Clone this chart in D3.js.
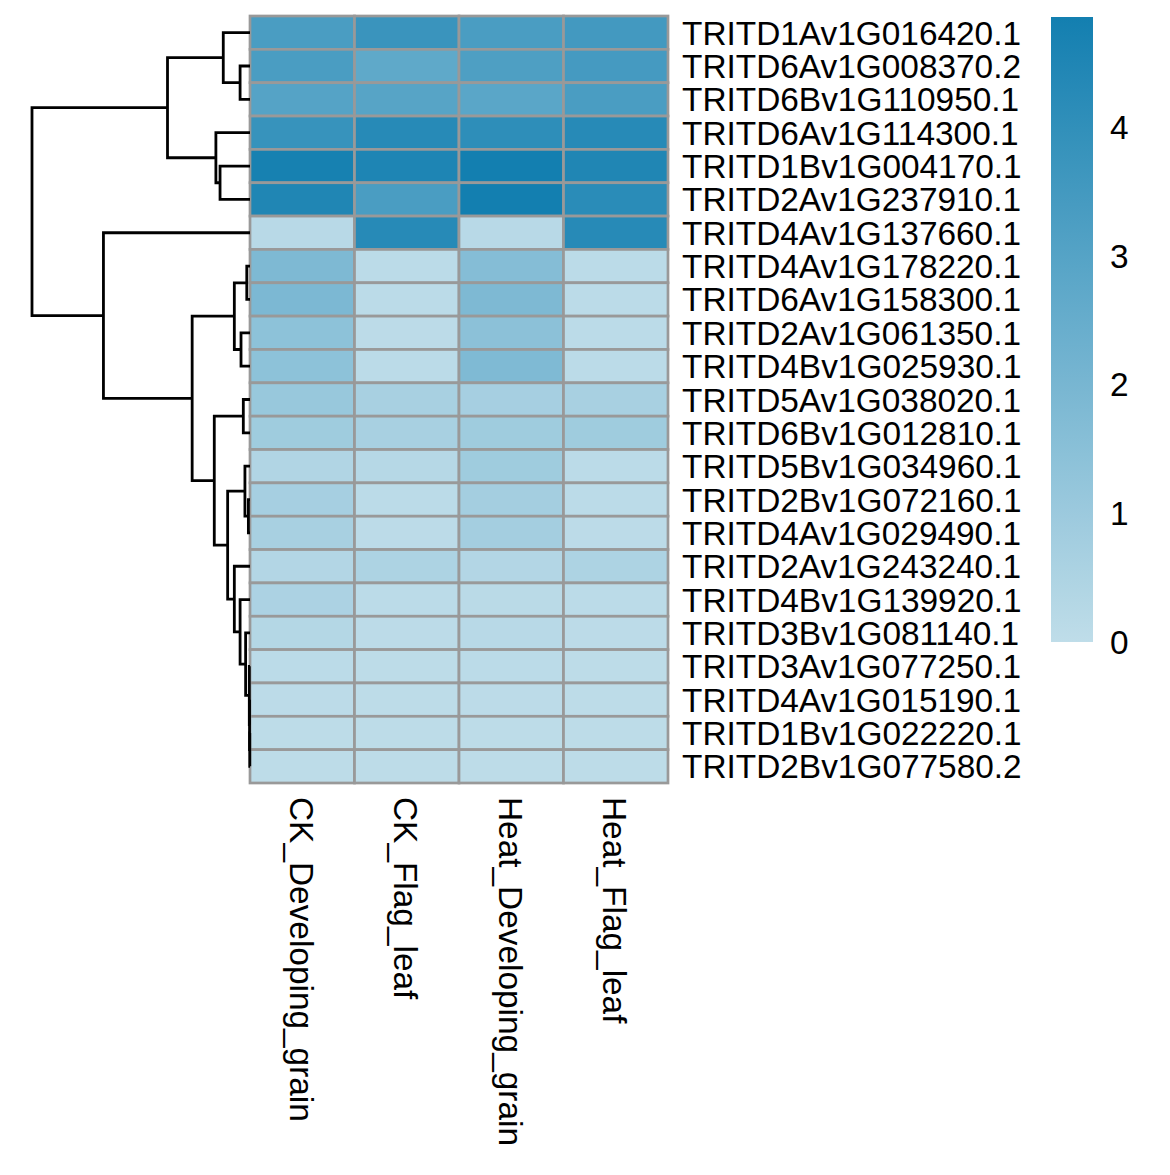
<!DOCTYPE html>
<html>
<head>
<meta charset="utf-8">
<script src="https://cdn.jsdelivr.net/npm/d3@7"></script>
<style>
  body { margin: 0; background: #fff; }
  text { font-family: "Liberation Sans", Arial, sans-serif; fill: #000; }
</style>
</head>
<body>
<div id="app"></div>
<script>
const genes = [
  'TRITD1Av1G016420.1', 'TRITD6Av1G008370.2', 'TRITD6Bv1G110950.1', 'TRITD6Av1G114300.1',
  'TRITD1Bv1G004170.1', 'TRITD2Av1G237910.1', 'TRITD4Av1G137660.1', 'TRITD4Av1G178220.1',
  'TRITD6Av1G158300.1', 'TRITD2Av1G061350.1', 'TRITD4Bv1G025930.1', 'TRITD5Av1G038020.1',
  'TRITD6Bv1G012810.1', 'TRITD5Bv1G034960.1', 'TRITD2Bv1G072160.1', 'TRITD4Av1G029490.1',
  'TRITD2Av1G243240.1', 'TRITD4Bv1G139920.1', 'TRITD3Bv1G081140.1', 'TRITD3Av1G077250.1',
  'TRITD4Av1G015190.1', 'TRITD1Bv1G022220.1', 'TRITD2Bv1G077580.2'
];
const samples = ['CK_Developing_grain', 'CK_Flag_leaf', 'Heat_Developing_grain', 'Heat_Flag_leaf'];

// values per sample, same order as genes
const ckGrain = [3.3, 3.3, 3.0, 3.85, 4.75, 4.5, 0.2, 1.85, 1.9, 1.4, 1.4, 1.1, 0.9, 0.4, 0.7, 0.65, 0.35, 0.55, 0.3, 0.1, 0.08, 0.06, 0.05];
const ckLeaf = [3.75, 2.7, 2.95, 4.3, 4.55, 3.3, 4.3, 0.1, 0.12, 0.08, 0.1, 0.65, 0.65, 0.25, 0.1, 0.08, 0.5, 0.1, 0.08, 0.06, 0.05, 0.05, 0.05];
const heatGrain = [3.3, 3.2, 2.85, 4.1, 4.85, 4.85, 0.2, 1.65, 1.85, 1.45, 1.8, 0.7, 0.9, 0.9, 0.75, 0.75, 0.35, 0.15, 0.2, 0.1, 0.08, 0.07, 0.05];
const heatLeaf = [3.5, 3.45, 3.3, 4.3, 4.5, 4.2, 4.3, 0.1, 0.1, 0.1, 0.1, 0.65, 0.9, 0.1, 0.1, 0.08, 0.5, 0.1, 0.08, 0.06, 0.05, 0.05, 0.05];
const series = [ckGrain, ckLeaf, heatGrain, heatLeaf];

const legendTicks = [0, 1, 2, 3, 4];
const valueMax = 4.86;

// row dendrogram: h = merge height, c = children (numbers are row indices)
const rowTree = { h: 9.46, c: [
  { h: 3.58, c: [
    { h: 1.16, c: [0, { h: 0.43, c: [1, 2] }] },
    { h: 1.48, c: [3, { h: 1.30, c: [4, 5] }] }
  ] },
  { h: 6.36, c: [6,
    { h: 2.51, c: [
      { h: 0.68, c: [{ h: 0.14, c: [7, 8] }, { h: 0.39, c: [9, 10] }] },
      { h: 1.55, c: [
        { h: 0.29, c: [11, 12] },
        { h: 0.97, c: [
          { h: 0.22, c: [13, { h: 0.07, c: [14, 15] }] },
          { h: 0.68, c: [16, { h: 0.43, c: [17, { h: 0.19, c: [18, { h: 0.03, c: [19, { h: 0.02, c: [20, { h: 0.01, c: [21, 22] }] }] }] }] }] }
        ] }
      ] }
    ] }
  ] }
] };

const width = 1170;
const height = 1175;
const fontSize = 33.4;

const svg = d3.select('#app').append('svg').attr('width', width).attr('height', height);

const xScale = d3.scaleBand(samples, [250, 668]);
const yScale = d3.scaleBand(genes, [16, 783]);
const hScale = d3.scaleLinear([0, rowTree.h], [250, 32]);
const colorScale = d3.scaleLinear([0, valueMax], ['#bfdde9', '#137fb0']);

// cells
const cells = [];
samples.forEach((s, j) => {
  genes.forEach((g, i) => cells.push({ gene: g, sample: s, value: series[j][i] }));
});

svg.append('g').selectAll('rect')
  .data(cells)
  .join('rect')
  .attr('x', d => xScale(d.sample))
  .attr('y', d => yScale(d.gene))
  .attr('width', xScale.bandwidth())
  .attr('height', yScale.bandwidth())
  .attr('fill', d => colorScale(d.value))
  .attr('stroke', '#999999')
  .attr('stroke-width', 2.7);

// dendrogram
const root = d3.hierarchy(rowTree, d => (typeof d === 'object' ? d.c : null));
root.eachAfter(n => {
  if (n.children) {
    n.py = (n.children[0].py + n.children[1].py) / 2;
    n.px = hScale(n.data.h);
  } else {
    n.py = yScale(genes[n.data]) + yScale.bandwidth() / 2;
    n.px = hScale(0);
  }
});

svg.append('g').selectAll('path')
  .data(root.descendants().filter(n => n.children))
  .join('path')
  .attr('d', n => {
    const [a, b] = n.children;
    return `M${a.px},${a.py}H${n.px}V${b.py}H${b.px}`;
  })
  .attr('fill', 'none')
  .attr('stroke', '#000')
  .attr('stroke-width', 2.8);

// row labels
svg.append('g').selectAll('text')
  .data(genes)
  .join('text')
  .attr('x', 682)
  .attr('y', d => yScale(d) + yScale.bandwidth() / 2 + 0.5)
  .attr('dominant-baseline', 'central')
  .style('font-size', fontSize + 'px')
  .text(d => d);

// column labels
svg.append('g').selectAll('text')
  .data(samples)
  .join('text')
  .attr('transform', d => `translate(${xScale(d) + xScale.bandwidth() / 2 - 1}, 797) rotate(90)`)
  .attr('dominant-baseline', 'central')
  .style('font-size', fontSize + 'px')
  .text(d => d);

// legend
const legendScale = d3.scaleLinear([0, valueMax], [642, 17]);
const grad = svg.append('defs').append('linearGradient')
  .attr('id', 'legend-grad')
  .attr('x1', 0).attr('y1', 1).attr('x2', 0).attr('y2', 0);
grad.selectAll('stop')
  .data(d3.range(0, 1.0001, 0.1))
  .join('stop')
  .attr('offset', d => d)
  .attr('stop-color', d => colorScale(d * valueMax));

svg.append('rect')
  .attr('x', 1051)
  .attr('y', legendScale(valueMax))
  .attr('width', 42)
  .attr('height', legendScale(0) - legendScale(valueMax))
  .attr('fill', 'url(#legend-grad)');

svg.append('g').selectAll('text')
  .data(legendTicks)
  .join('text')
  .attr('x', 1110)
  .attr('y', d => legendScale(d))
  .attr('dominant-baseline', 'central')
  .style('font-size', fontSize + 'px')
  .text(d => d);
</script>
</body>
</html>
